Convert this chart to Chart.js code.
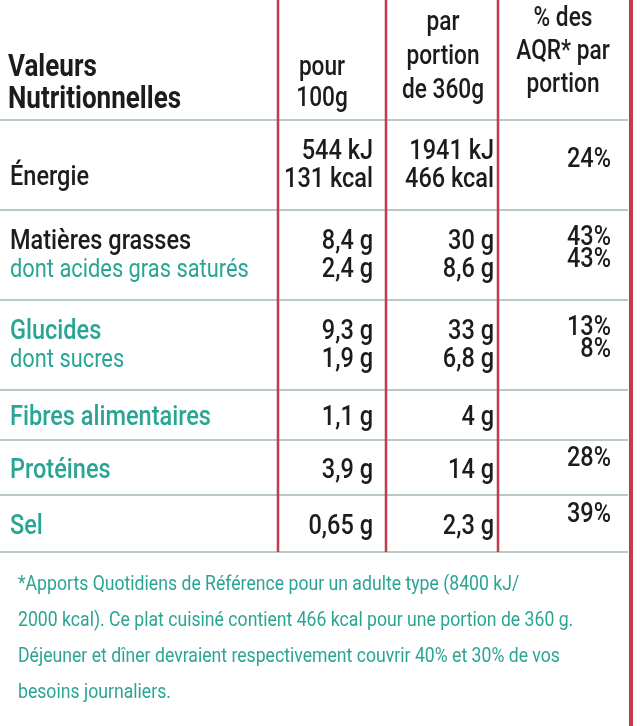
<!DOCTYPE html>
<html><head><meta charset="utf-8">
<script src="https://cdn.jsdelivr.net/npm/chart.js@4"></script>
<style>html,body{margin:0;padding:0;background:#fff}#w{width:640px;height:726px}</style>
</head><body><div id="w"><canvas id="c"></canvas></div>
<script>
const rowLabels = [["Énergie"],["Matières grasses","dont acides gras saturés"],["Glucides","dont sucres"],["Fibres alimentaires"],["Protéines"],["Sel"]];
const per100 = [["544 kJ","131 kcal"],["8,4 g","2,4 g"],["9,3 g","1,9 g"],["1,1 g"],["3,9 g"],["0,65 g"]];
const perPortion = [["1941 kJ","466 kcal"],["30 g","8,6 g"],["33 g","6,8 g"],["4 g"],["14 g"],["2,3 g"]];
const aqr = [["24%"],["43%","43%"],["13%","8%"],[""],["28%"],["39%"]];
const headers = [["Valeurs","Nutritionnelles"],["pour","100g"],["par","portion","de 360g"],["% des","AQR* par","portion"]];
const footnote = ["*Apports Quotidiens de Référence pour un adulte type (8400 kJ/","2000 kcal). Ce plat cuisiné contient 466 kcal pour une portion de 360 g.","Déjeuner et dîner devraient respectivement couvrir 40% et 30% de vos","besoins journaliers."];

const F = "'Roboto','Liberation Sans',sans-serif";
const BLACK = "#1c1c1c", TEAL = "#2aa594", RED = "#c23a4c";
const rowTop = [120,210,300,390,440,495], rowBot = [210,300,390,440,495,552];
const colRight = [373,494,611], colLines=[278,386,498];
const teal = [[false],[false,true],[true,true],[true],[true],[true]];
const SX = 0.84;

function txt(c,t,x,y,align){
  c.save(); c.translate(x,y); c.scale(SX,1); c.textAlign=align; c.fillText(t,0,0); c.restore();
}

const plugin = {id:'table', afterDraw(ch){
  const c=ch.ctx, X=v=>ch.scales.x.getPixelForValue(v), Y=v=>ch.scales.y.getPixelForValue(v);
  c.save();
  c.strokeStyle="#b9c9c6"; c.lineWidth=2;
  rowTop.forEach(t=>{c.beginPath();c.moveTo(X(0),Y(t));c.lineTo(X(628),Y(t));c.stroke();});
  c.beginPath();c.moveTo(X(0),Y(552));c.lineTo(X(628),Y(552));c.stroke();
  c.strokeStyle=RED; c.lineWidth=2.5;
  colLines.forEach(x=>{c.beginPath();c.moveTo(X(x),Y(0));c.lineTo(X(x),Y(552));c.stroke();});
  c.lineWidth=4;c.beginPath();c.moveTo(X(631),Y(0));c.lineTo(X(631),Y(726));c.stroke();
  c.textBaseline="alphabetic";
  c.fillStyle=BLACK;
  c.font="bold 31px "+F;
  txt(c,headers[0][0],X(8),Y(76),"left"); txt(c,headers[0][1],X(8),Y(108),"left");
  c.font="500 27px "+F;
  [[322,[75,106]],[443,[30,64,98]],[563,[26,59,92]]].forEach(([cx,ys],i)=>{
    headers[i+1].forEach((t,j)=>txt(c,t,X(cx),Y(ys[j]),"center"));
  });
  rowLabels.forEach((lab,r)=>{
    const two = lab.length>1 || per100[r].length>1;
    const mid=(rowTop[r]+rowBot[r])/2;
    const ys = two?[mid-6,mid+22]:[mid+10];
    const ly = lab.length>1?ys:[per100[r].length>1?mid+20:mid+10];
    lab.forEach((t,j)=>{c.fillStyle=teal[r][j]?TEAL:BLACK;c.font=(j==0?"500 28px ":"26px ")+F;txt(c,t,X(10),Y(ly[j]),"left");});
    c.fillStyle=BLACK;c.font="500 28px "+F;
    per100[r].forEach((t,j)=>txt(c,t,X(colRight[0]),Y(ys[j]),"right"));
    perPortion[r].forEach((t,j)=>txt(c,t,X(colRight[1]),Y(ys[j]),"right"));
    const ay = aqr[r].length>1?[ys[0]-4,ys[1]-10]:[two?mid+2:mid-2];
    aqr[r].forEach((t,j)=>txt(c,t,X(colRight[2]),Y(ay[j]),"right"));
  });
  c.fillStyle=TEAL;c.font="21px "+F;
  footnote.forEach((t,i)=>txt(c,t,X(18),Y(590+i*36),"left"));
  c.restore();
}};

new Chart(document.getElementById('c'),{
  type:'scatter',
  data:{datasets:[{data:[],pointRadius:0}]},
  options:{responsive:true,maintainAspectRatio:false,animation:false,
    layout:{padding:0},
    plugins:{legend:{display:false},tooltip:{enabled:false}},
    scales:{x:{type:'linear',min:0,max:640,display:false},y:{type:'linear',min:0,max:726,reverse:true,display:false}}},
  plugins:[plugin]
});
</script></body></html>
